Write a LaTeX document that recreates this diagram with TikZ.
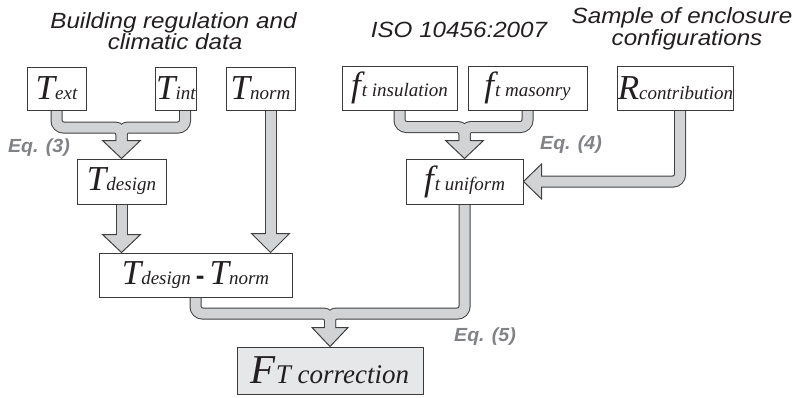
\documentclass[tikz,border=0pt]{standalone}
\usepackage{graphicx}
\usepackage{fontspec}
\setmainfont{Liberation Serif}
\newfontfamily\hdrfont{Liberation Sans}
\usetikzlibrary{calc,backgrounds}
\definecolor{pipefill}{HTML}{D1D3D4}
\definecolor{pipeedge}{HTML}{404041}
\definecolor{boxedge}{HTML}{3A3A3A}
\definecolor{eqgray}{HTML}{808285}
\definecolor{ink}{HTML}{231F20}
\definecolor{ftfill}{HTML}{E6E7E8}
\newcommand{\HdrLine}[1]{\scalebox{1.1}[1]{\hdrfont\itshape\fontsize{22}{22}\selectfont #1}}
\newcommand{\EqLab}[1]{\scalebox{1.03}[1]{\hdrfont\bfseries\itshape\fontsize{19}{19}\selectfont #1}}
\newcommand{\Sym}[2]{{\fontsize{35}{35}\selectfont\itshape #1}{\fontsize{19}{19}\selectfont\itshape #2}}
\begin{document}
\begin{tikzpicture}[x=1pt,y=-1pt,
  pipeout/.style={draw=pipeedge,line width=12pt,rounded corners=7pt},
  pipein/.style={draw=pipefill,line width=10pt,rounded corners=7pt},
  headshape/.style={fill=pipefill,draw=pipeedge,line width=1pt,line join=miter},
  box/.style={draw=boxedge,line width=1pt,fill=white,inner sep=0pt,text=ink},
  hdr/.style={anchor=base,inner sep=0pt,text=ink},
  eqlab/.style={inner sep=0pt,text=eqgray}]
\useasboundingbox (0,0) rectangle (794,397);

% headers
\node[hdr] (h1a) at (173.5,28.5) {\HdrLine{Building regulation and}};
\node[hdr] (h1b) at (175,49.5) {\HdrLine{climatic data}};
\node[hdr] (h2) at (459,37) {\HdrLine{ISO 10456:2007}};
\node[hdr] (h3a) at (682,23) {\HdrLine{Sample of enclosure}};
\node[hdr] (h3b) at (687,45.5) {\HdrLine{configurations}};

% boxes
\node[box,minimum width=59pt,minimum height=43pt] (Text) at (56.5,88.5) {\Sym{T}{ext}};
\node[box,minimum width=41pt,minimum height=43pt] (Tint) at (176,88.5) {\Sym{T}{int}};
\node[box,minimum width=69pt,minimum height=43pt] (Tnorm) at (260.5,88.5) {\Sym{T}{norm}};
\node[box,minimum width=115pt,minimum height=44pt] (fins) at (399.5,88) {\Sym{f\kern1pt}{t insulation}};
\node[box,minimum width=119pt,minimum height=44pt] (fmas) at (527.5,88) {\Sym{f\kern1pt}{t masonry}};
\node[box,minimum width=113pt,minimum height=44pt] (Rcon) at (675.5,88) {\Sym{R}{contribution}};
\node[box,minimum width=89pt,minimum height=45pt] (Tdes) at (121.5,181.5) {\Sym{T}{design}};
\node[box,minimum width=117pt,minimum height=45pt] (funi) at (464.5,181.5) {\Sym{f\kern1pt}{t uniform}};
\node[box,minimum width=193pt,minimum height=44pt] (Tdiff) at (195.5,275) {\Sym{T}{design}\hspace{5pt}{\hdrfont\bfseries\fontsize{26}{26}\selectfont -}\hspace{5pt}\Sym{T}{norm}};
\node[box,fill=ftfill,minimum width=186pt,minimum height=47pt] (FT) at (330,370.5) {{\fontsize{41}{41}\selectfont\itshape F}{\fontsize{27}{27}\selectfont\itshape T correction}};

% equation labels
\node[eqlab] (eq3) at (39,148) {\EqLab{Eq. (3)}};
\node[eqlab] (eq4) at (571,144.5) {\EqLab{Eq. (4)}};
\node[eqlab] (eq5) at (485,336.5) {\EqLab{Eq. (5)}};

\begin{pgfonlayer}{background}
% named points
\coordinate (texto) at ([yshift=4pt]Text.south);
\coordinate (tinto) at ([xshift=9pt,yshift=4pt]Tint.south);
\coordinate (tnormo) at ([xshift=10pt,yshift=4pt]Tnorm.south);
\coordinate (finso) at ([yshift=4pt]fins.south);
\coordinate (fmaso) at ([yshift=4pt]fmas.south);
\coordinate (rcono) at ([xshift=4.5pt,yshift=4pt]Rcon.south);
\coordinate (tdeso) at ([yshift=4pt]Tdes.south);
\coordinate (funio) at ([yshift=4pt]funi.south);
\coordinate (tdiffo) at ([yshift=4pt]Tdiff.south);
\coordinate (m1j) at ($(Tdes.north)+(0,-31)$);
\coordinate (m1b) at ($(Tdes.north)+(0,-18)$);
\coordinate (m2j) at ($(funi.north)+(0,-31.5)$);
\coordinate (m2b) at ($(funi.north)+(0,-18)$);
\coordinate (m3j) at ($(FT.north)+(0,-33)$);
\coordinate (m3b) at ($(FT.north)+(0,-19)$);
\coordinate (tnt) at (tnormo |- Tdiff.north);
\coordinate (tdt) at (tdeso |- Tdiff.north);
\coordinate (rb) at ($(funi.east)+(18,0)$);

% outer strokes
\draw[pipeout] (texto) -- (texto |- m1j) -- (m1j) -- (m1b);
\draw[pipeout] (tinto) -- (tinto |- m1j) -- (m1j) -- (m1b);
\draw[pipeout] (finso) -- (finso |- m2j) -- (m2j) -- (m2b);
\draw[pipeout] (fmaso) -- (fmaso |- m2j) -- (m2j) -- (m2b);
\draw[pipeout] (rcono) -- (rcono |- funi.east) -- (rb);
\draw[pipeout] (tnormo) -- ($(tnt)+(0,-19)$);
\draw[pipeout] (tdeso) -- ($(tdt)+(0,-18)$);
\draw[pipeout] (tdiffo) -- (tdiffo |- m3j) -- (m3j) -- (m3b);
\draw[pipeout] (funio) -- (funio |- m3j) -- (m3j) -- (m3b);

% heads
\draw[headshape] ($(m1b)+(-19,0)$) -- ($(m1b)+(19,0)$) -- (Tdes.north) -- cycle;
\draw[headshape] ($(m2b)+(-19,0)$) -- ($(m2b)+(19,0)$) -- (funi.north) -- cycle;
\draw[headshape] ($(m3b)+(-18,0)$) -- ($(m3b)+(18,0)$) -- (FT.north) -- cycle;
\draw[headshape] ($(rb)+(0,-17.5)$) -- ($(rb)+(0,17.5)$) -- (funi.east) -- cycle;
\draw[headshape] ($(tnt)+(-19,-19)$) -- ($(tnt)+(19,-19)$) -- (tnt) -- cycle;
\draw[headshape] ($(tdt)+(-19,-18)$) -- ($(tdt)+(19,-18)$) -- (tdt) -- cycle;

% inner strokes
\draw[pipein] (texto) -- (texto |- m1j) -- (m1j) -- ($(m1b)+(0,1.5)$);
\draw[pipein] (tinto) -- (tinto |- m1j) -- (m1j) -- ($(m1b)+(0,1.5)$);
\draw[pipein] (finso) -- (finso |- m2j) -- (m2j) -- ($(m2b)+(0,1.5)$);
\draw[pipein] (fmaso) -- (fmaso |- m2j) -- (m2j) -- ($(m2b)+(0,1.5)$);
\draw[pipein] (rcono) -- (rcono |- funi.east) -- ($(rb)+(-1.5,0)$);
\draw[pipein] (tnormo) -- ($(tnt)+(0,-17.5)$);
\draw[pipein] (tdeso) -- ($(tdt)+(0,-16.5)$);
\draw[pipein] (tdiffo) -- (tdiffo |- m3j) -- (m3j) -- ($(m3b)+(0,1.5)$);
\draw[pipein] (funio) -- (funio |- m3j) -- (m3j) -- ($(m3b)+(0,1.5)$);
\end{pgfonlayer}
\end{tikzpicture}
\end{document}
